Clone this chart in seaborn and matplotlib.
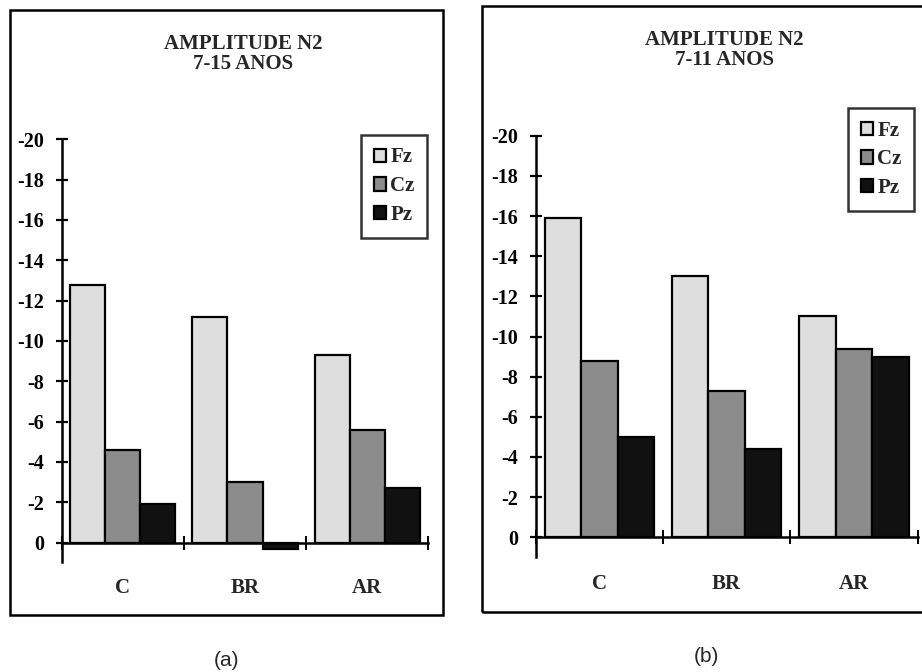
import matplotlib
matplotlib.use("Agg")
import matplotlib.pyplot as plt
import seaborn as sns
import pandas as pd
from matplotlib.patches import Rectangle, Patch

sns.set_theme(style="white")
plt.rcParams['font.family'] = ['Liberation Serif', 'DejaVu Serif']

categories = ["C", "BR", "AR"]
electrodes = ["Fz", "Cz", "Pz"]
titles = ["AMPLITUDE N2\n7-15 ANOS", "AMPLITUDE N2\n7-11 ANOS"]
panel_labels = ["(a)", "(b)"]
# values (microvolts), negative plotted upward
fz_a = [-12.8, -11.2, -9.3]
cz_a = [-4.6, -3.0, -5.6]
pz_a = [-1.9, 0.3, -2.7]
fz_b = [-15.9, -13.0, -11.0]
cz_b = [-8.8, -7.3, -9.4]
pz_b = [-5.0, -4.4, -9.0]
yticks = [0, -2, -4, -6, -8, -10, -12, -14, -16, -18, -20]

colors = ["#dedede", "#8c8c8c", "#111111"]

W, H = 922, 672
fig = plt.figure(figsize=(W / 100, H / 100), dpi=100)


def px_axes(l, r, t, b):
    return fig.add_axes([l / W, 1 - b / H, (r - l) / W, (b - t) / H])


def make_df(fz, cz, pz):
    rows = []
    for e, vals in zip(electrodes, [fz, cz, pz]):
        for c, v in zip(categories, vals):
            rows.append({"cond": c, "elec": e, "val": v})
    return pd.DataFrame(rows)


panels = [
    dict(data=(fz_a, cz_a, pz_a), ax=(61.7, 428.3, 139.3, 562.0), frame=(10, 10, 443, 615),
         title_x=243, title_y=54, leg=(361, 135), lab=(226, 660), cat_y=588),
    dict(data=(fz_b, cz_b, pz_b), ax=(535.7, 917.7, 135.7, 556.6), frame=(482, 6, 926, 612),
         title_x=724, title_y=50, leg=(848, 108), lab=(706, 657), cat_y=584),
]

for i, p in enumerate(panels):
    l, r, t, b = p["ax"]
    ax = px_axes(l, r, t, b)
    df = make_df(*p["data"])
    sns.barplot(data=df, x="cond", y="val", hue="elec", order=categories,
                hue_order=electrodes, palette=colors, edgecolor="black",
                linewidth=1.6, width=0.86, gap=0, legend=False, ax=ax,
                errorbar=None, saturation=1)
    ax.set_xlim(-0.5, 2.5)
    ax.set_ylim(0.96, -20)
    ax.set_facecolor("none")
    for s in ["top", "right"]:
        ax.spines[s].set_visible(False)
    for s in ["left", "bottom"]:
        ax.spines[s].set_color("black")
        ax.spines[s].set_linewidth(1.8)
    ax.spines["bottom"].set_position(("data", 0))
    ax.set_yticks(yticks)
    ax.set_yticklabels([str(v) for v in yticks], fontsize=14.5, fontweight="bold")
    ax.set_xticks([-0.5, 0.5, 1.5, 2.5])
    ax.set_xticklabels([])
    ax.tick_params(axis="y", direction="inout", length=9, width=1.6, pad=8,
                   left=True, colors="black")
    ax.tick_params(axis="x", direction="inout", length=10, width=1.4, bottom=True,
                   colors="black")
    ax.set_xlabel("")
    ax.set_ylabel("")
    for j, c in enumerate(categories):
        fig.text((l + (j + 0.5) * (r - l) / 3) / W, 1 - p["cat_y"] / H, c,
                 ha="center", va="center", fontsize=15, fontweight="bold")

    fl, ft, fr, fb = p["frame"]
    fig.patches.append(Rectangle((fl / W, 1 - fb / H), (fr - fl) / W, (fb - ft) / H,
                                 transform=fig.transFigure, fill=False,
                                 edgecolor="black", linewidth=1.8))
    fig.text(p["title_x"] / W, 1 - p["title_y"] / H, titles[i], ha="center",
             va="center", fontsize=15, fontweight="bold", linespacing=0.97,
             multialignment="center")
    handles = [Patch(facecolor=c, edgecolor="black", linewidth=1.6) for c in colors]
    leg = fig.legend(handles, electrodes, loc="upper left",
                     bbox_to_anchor=(p["leg"][0] / W, 1 - p["leg"][1] / H),
                     frameon=True, fancybox=False, edgecolor="black",
                     prop={"weight": "bold", "size": 15}, handlelength=0.6,
                     handleheight=0.6, handletextpad=0.2, labelspacing=0.42,
                     borderpad=0.6, borderaxespad=0)
    leg.get_frame().set_linewidth(1.8)
    fig.text(p["lab"][0] / W, 1 - p["lab"][1] / H, panel_labels[i], ha="center",
             va="center", fontsize=15, family=["Liberation Sans", "DejaVu Sans"])

fig.savefig("out.png", dpi=100, facecolor="white")
